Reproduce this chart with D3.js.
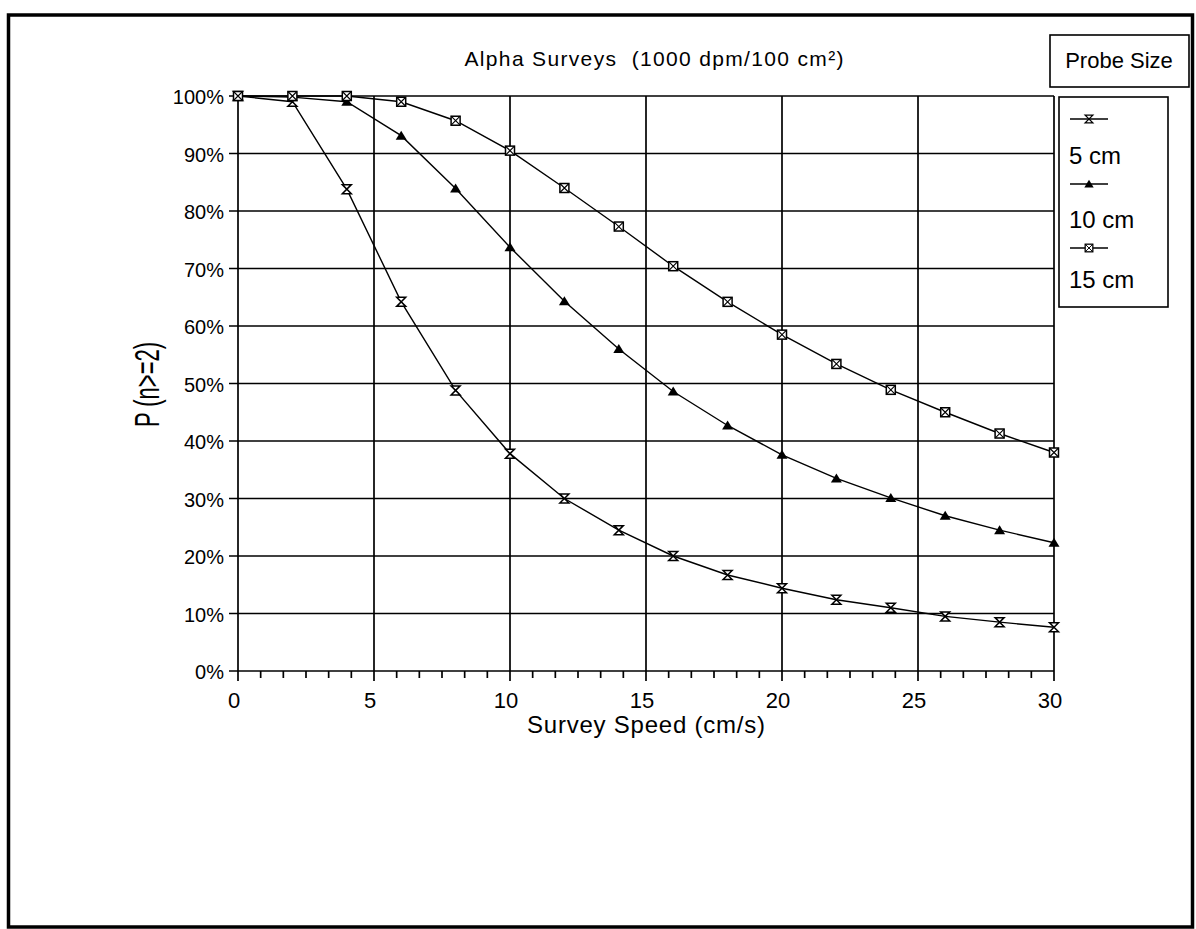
<!DOCTYPE html>
<html>
<head>
<meta charset="utf-8">
<script src="https://cdn.jsdelivr.net/npm/d3@7"></script>
<style>
  html, body { margin: 0; padding: 0; background: #fff; }
  svg { display: block; font-family: "Liberation Sans", Arial, sans-serif; }
  text { fill: #000; }
</style>
</head>
<body>
<svg id="chart" width="1196" height="929"></svg>
<script>
// ---- data ----
const speeds = [0, 2, 4, 6, 8, 10, 12, 14, 16, 18, 20, 22, 24, 26, 28, 30];
const probe5  = [100, 99, 83.8, 64.2, 48.8, 37.8, 30.0, 24.5, 20.0, 16.7, 14.4, 12.4, 11.0, 9.5, 8.5, 7.6];
const probe10 = [100, 99.8, 99, 93.1, 83.9, 73.7, 64.3, 56.0, 48.6, 42.7, 37.6, 33.5, 30.1, 27.0, 24.5, 22.3];
const probe15 = [100, 100, 100, 99, 95.7, 90.5, 84.0, 77.3, 70.4, 64.2, 58.5, 53.4, 48.9, 45.0, 41.3, 38.0];
const seriesNames = ["5 cm", "10 cm", "15 cm"];
const xTickValues = [0, 5, 10, 15, 20, 25, 30];
const yTickValues = [0, 10, 20, 30, 40, 50, 60, 70, 80, 90, 100];
const titleText = "Alpha Surveys\u00a0\u00a0(1000 dpm/100 cm\u00b2)";
const xTitle = "Survey Speed (cm/s)";
const yTitle = "P (n>=2)";
const legendTitle = "Probe Size";

const series = [
  { name: seriesNames[0], values: probe5,  marker: "hourglass" },
  { name: seriesNames[1], values: probe10, marker: "triangle" },
  { name: seriesNames[2], values: probe15, marker: "xsquare" }
];

const svg = d3.select("#chart");

// outer frame
svg.append("rect")
  .attr("x", 8.5).attr("y", 15).attr("width", 1184).attr("height", 912)
  .attr("fill", "none").attr("stroke", "#000").attr("stroke-width", 3.5);

const x = d3.scaleLinear().domain([0, 30]).range([238, 1054]);
const y = d3.scaleLinear().domain([0, 100]).range([671, 96]);

const grid = svg.append("g").attr("stroke", "#000").attr("stroke-width", 1.7);

// horizontal gridlines
grid.selectAll("line.h").data(yTickValues).join("line")
  .attr("x1", x(0) - 9).attr("x2", x(30))
  .attr("y1", d => y(d)).attr("y2", d => y(d));

// vertical gridlines (extend below axis as major ticks)
grid.selectAll("line.v").data(xTickValues).join("line")
  .attr("x1", d => x(d)).attr("x2", d => x(d))
  .attr("y1", y(100)).attr("y2", y(0) + 10);

// minor x ticks every 5/6 unit
const minor = d3.range(1, 36).map(i => i * 5 / 6).filter(v => Math.abs(v / 5 - Math.round(v / 5)) > 1e-6);
grid.selectAll("line.m").data(minor).join("line")
  .attr("x1", d => x(d)).attr("x2", d => x(d))
  .attr("y1", y(0)).attr("y2", y(0) + 7);

// y tick labels
svg.append("g").selectAll("text").data(yTickValues).join("text")
  .attr("x", 224).attr("y", d => y(d) + 8)
  .attr("text-anchor", "end").attr("font-size", 20)
  .text(d => d + "%");

// x tick labels
svg.append("g").selectAll("text").data(xTickValues).join("text")
  .attr("x", d => x(d) - 4).attr("y", 708)
  .attr("text-anchor", "middle").attr("font-size", 22)
  .text(d => d);

// axis titles
svg.append("text")
  .attr("x", 646).attr("y", 733).attr("text-anchor", "middle")
  .attr("font-size", 24).attr("textLength", 238).attr("lengthAdjust", "spacing")
  .text(xTitle);

svg.append("text")
  .attr("transform", "translate(159,384.5) rotate(-90) scale(1,1.6)")
  .attr("text-anchor", "middle").attr("font-size", 22)
  .text(yTitle);

// title
svg.append("text")
  .attr("x", 654).attr("y", 66).attr("text-anchor", "middle")
  .attr("font-size", 21).attr("textLength", 379).attr("lengthAdjust", "spacing")
  .text(titleText);

// markers
function drawMarker(g, type) {
  if (type === "hourglass") {
    g.append("path").attr("d", "M-4.5,-4.5L4.5,-4.5L-4.5,4.5L4.5,4.5Z")
      .attr("fill", "#fff").attr("stroke", "#000").attr("stroke-width", 1.5);
  } else if (type === "triangle") {
    g.append("path").attr("d", "M0,-5L5.5,4L-5.5,4Z").attr("fill", "#000");
  } else {
    g.append("rect").attr("x", -4.5).attr("y", -4.5).attr("width", 9).attr("height", 9)
      .attr("fill", "#fff").attr("stroke", "#000").attr("stroke-width", 1.5);
    g.append("path").attr("d", "M-4.5,-4.5L4.5,4.5M4.5,-4.5L-4.5,4.5")
      .attr("stroke", "#000").attr("stroke-width", 1.1);
  }
}

const line = d3.line().x((d, i) => x(speeds[i])).y(d => y(d)).curve(d3.curveLinear);

series.forEach(s => {
  svg.append("path").datum(s.values)
    .attr("d", line).attr("fill", "none").attr("stroke", "#000").attr("stroke-width", 1.4);
});
series.forEach(s => {
  svg.append("g").selectAll("g").data(s.values).join("g")
    .attr("transform", (d, i) => `translate(${x(speeds[i])},${y(d)})`)
    .each(function () { drawMarker(d3.select(this), s.marker); });
});

// legend title box
svg.append("rect").attr("x", 1050).attr("y", 35).attr("width", 139).attr("height", 52)
  .attr("fill", "#fff").attr("stroke", "#000").attr("stroke-width", 1.6);
svg.append("text").attr("x", 1119).attr("y", 68).attr("text-anchor", "middle")
  .attr("font-size", 22).text(legendTitle);

// legend box
svg.append("rect").attr("x", 1059).attr("y", 97).attr("width", 109).attr("height", 210)
  .attr("fill", "#fff").attr("stroke", "#000").attr("stroke-width", 1.6);
const legLineY = [119, 184, 248];
const legTextY = [164, 228, 288];
series.forEach((s, i) => {
  svg.append("line").attr("x1", 1070).attr("x2", 1108)
    .attr("y1", legLineY[i]).attr("y2", legLineY[i])
    .attr("stroke", "#000").attr("stroke-width", 1.4);
  const g = svg.append("g").attr("transform", `translate(1089,${legLineY[i]}) scale(0.85)`);
  drawMarker(g, s.marker);
  svg.append("text").attr("x", 1069).attr("y", legTextY[i])
    .attr("font-size", 24).text(s.name);
});
</script>
</body>
</html>
